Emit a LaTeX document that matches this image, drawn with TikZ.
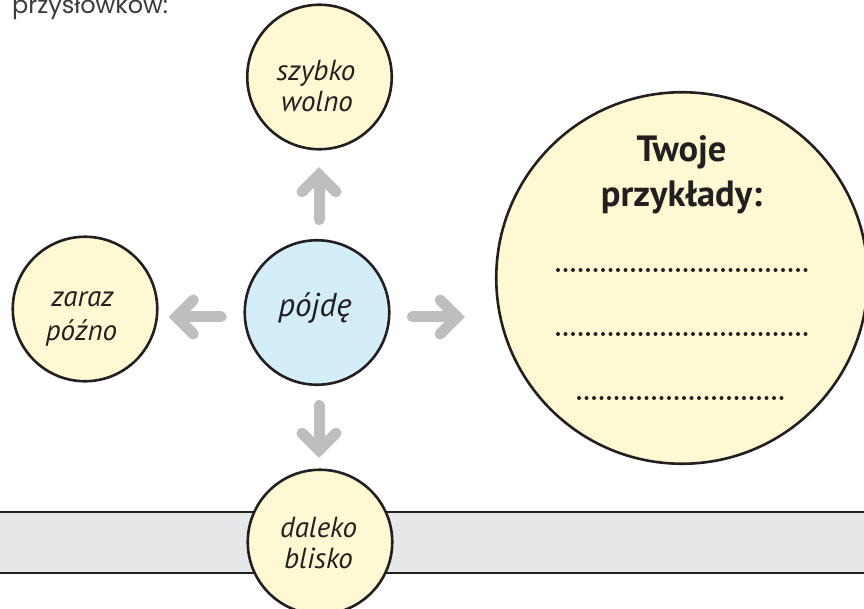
\documentclass[tikz,border=0pt]{standalone}
\usepackage{fontspec}
\setmainfont{PT Sans}
\newfontfamily\topfont{Poppins}
\definecolor{ink}{HTML}{231F20}
\definecolor{cream}{HTML}{FFF9D3}
\definecolor{sky}{HTML}{D4EEF9}
\definecolor{arrgray}{HTML}{BCBEC0}
\definecolor{bandgray}{HTML}{E6E7E8}
\definecolor{topgray}{HTML}{3A3A3A}
\begin{document}
\begin{tikzpicture}[x=1pt,y=-1pt,
  bub/.style={circle, draw=ink, line width=2.6pt, fill=cream, minimum size=144.5pt, inner sep=0pt},
  lbl/.style={anchor=base, text=ink, inner sep=0pt, font=\itshape\fontsize{29}{34}\selectfont},
  biglbl/.style={anchor=base, text=ink, inner sep=0pt, font=\bfseries\fontsize{36.5}{42}\selectfont},
  garr/.style={draw=arrgray, line width=11pt, line cap=round},
  dotrow/.style={draw=ink, line width=4pt, line cap=round, dash pattern=on 0pt off 7.5pt},
  garrow/.pic={
    \draw[garr] (-23.5,0) -- (21.2,0);
    \draw[garr, line join=miter] (4.2,17) -- (21.2,0) -- (4.2,-17);
  }
]
\useasboundingbox (0,0) rectangle (864,609);
\fill[white] (0,0) rectangle (864,609);

% top text (cut by the page edge, as in the reference)
\node[anchor=base west, inner sep=0pt, text=topgray, font=\topfont\fontsize{24}{28}\selectfont] (head) at (12,13.5) {przysłówków:};

% grey band
\fill[bandgray] (-5,512) rectangle (870,573);
\draw[ink, line width=2.2pt] (-5,512) -- (870,512) (-5,573) -- (870,573);

% circles
\node[bub] (szybko) at (319.5,77) {};
\node[bub] (zaraz) at (85,309) {};
\node[bub, fill=sky] (pojde) at (317,312.5) {};
\node[bub] (daleko) at (320,542) {};
\node[bub, minimum size=371.5pt] (big) at (682,278) {};

% texts
\node[lbl] (t1) at (316,81) {szybko};
\node[lbl] (t2) at (317,112) {wolno};
\node[lbl] (t3) at (82.5,307) {zaraz};
\node[lbl] (t4) at (81.5,341) {późno};
\node[lbl, font=\itshape\fontsize{33}{38}\selectfont] (t5) at (315,316.5) {pójdę};
\node[lbl] (t6) at (318.5,537) {daleko};
\node[lbl] (t7) at (318.5,568) {blisko};
\node[biglbl] (t8) at (681.5,162) {Twoje};
\node[biglbl] (t9) at (681.5,207) {przykłady:};

% dotted answer lines
\draw[dotrow] (558,270) -- (806,270);
\draw[dotrow] (558,334) -- (806,334);
\draw[dotrow] (579,398) -- (784,398);

% arrows from the centre word outwards
\pic[rotate=90] at (319,196) {garrow};
\pic[rotate=180] at (197.5,317) {garrow};
\pic at (436,317) {garrow};
\pic[rotate=-90] at (319,429) {garrow};
\end{tikzpicture}
\end{document}
